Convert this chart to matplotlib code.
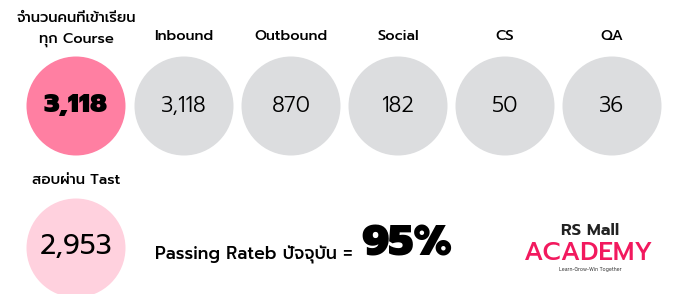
import matplotlib
matplotlib.use("Agg")
import matplotlib.pyplot as plt
from matplotlib.patches import Circle

plt.rcParams['font.family'] = ['Prompt', 'DejaVu Sans']

# data
categories = ["Inbound", "Outbound", "Social", "CS", "QA"]
cat_values = ["3,118", "870", "182", "50", "36"]
total_label = ["จำนวนคนที่เข้าเรียน", "ทุก Course"]
total_value = "3,118"
pass_label = "สอบผ่าน Tast"
pass_value = "2,953"
rate_label = "Passing Rateb ปัจจุบัน ="
rate_value = "95%"

W, H = 679, 294
fig = plt.figure(figsize=(W / 100, H / 100), dpi=100)
ax = fig.add_axes([0, 0, 1, 1])
ax.set_xlim(0, W)
ax.set_ylim(H, 0)
ax.set_aspect("equal")
ax.axis("off")

r = 49.5
# total circle
ax.add_patch(Circle((76, 106), r, color="#ff7fa2", lw=0))
ax.text(76, 106, total_value, ha="center", va="center", fontsize=19, fontweight=900)
ax.text(76, 19, total_label[0], ha="center", va="center", fontsize=10.5, fontweight=500)
ax.text(76, 40, total_label[1], ha="center", va="center", fontsize=10.5, fontweight=500)

# category circles
for i, (c, v) in enumerate(zip(categories, cat_values)):
    x = 184 + i * 107
    ax.add_patch(Circle((x, 106), r, color="#dcdddf", lw=0))
    ax.text(x, 106, v, ha="center", va="center", fontsize=15.5, fontweight=300)
    ax.text(x, 37, c, ha="center", va="center", fontsize=10.5, fontweight=500)

# pass circle
ax.add_patch(Circle((76, 248), r, color="#ffd1de", lw=0))
ax.text(76, 247, pass_value, ha="center", va="center", fontsize=20, fontweight=400)
ax.text(76, 180, pass_label, ha="center", va="center", fontsize=10.5, fontweight=500)

# passing rate
ax.text(155, 255, rate_label, ha="left", va="center", fontsize=12.5, fontweight=500)
ax.text(361, 245, rate_value, ha="left", va="center", fontsize=30.5, fontweight=900)

# logo
ax.text(590, 231, "RS Mall", ha="center", va="center", fontsize=12, fontweight=600, color="#222222")
ax.text(589, 254, "ACADEMY", ha="center", va="center", fontsize=18.5, fontweight=500, color="#f2195e")
ax.text(590, 270, "Learn-Grow-Win Together", ha="center", va="center", fontsize=3.5, color="#444444")

fig.savefig("out.png", dpi=100)
